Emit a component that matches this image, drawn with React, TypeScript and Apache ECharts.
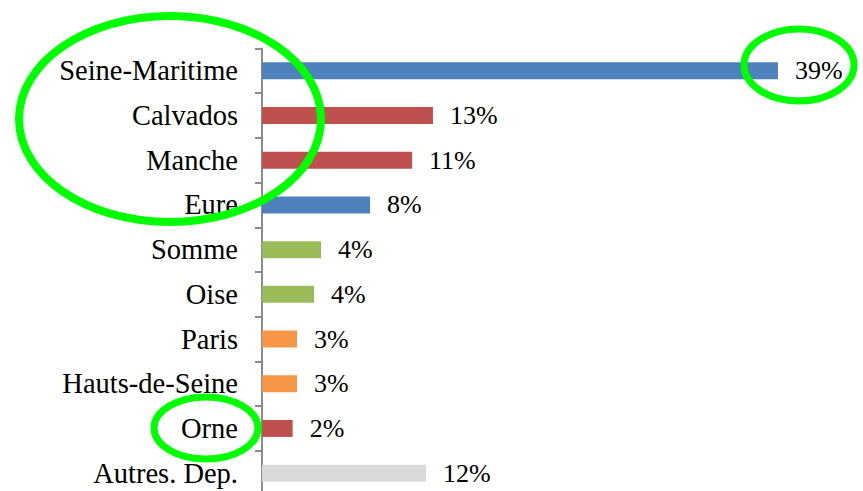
import React, { useEffect, useRef } from "react";
import * as echarts from "echarts";

const categories = [
  "Seine-Maritime",
  "Calvados",
  "Manche",
  "Eure",
  "Somme",
  "Oise",
  "Paris",
  "Hauts-de-Seine",
  "Orne",
  "Autres. Dep.",
];
const values = [39.06, 12.94, 11.36, 8.18, 4.47, 3.94, 2.65, 2.65, 2.32, 12.41];
const barColors = [
  "#4F81BD",
  "#C0504D",
  "#C0504D",
  "#4F81BD",
  "#9BBB59",
  "#9BBB59",
  "#F79646",
  "#F79646",
  "#C0504D",
  "#D9D9D9",
];

const FONT = "Liberation Serif";

export default function App() {
  const ref = useRef<HTMLDivElement>(null);
  useEffect(() => {
    if (!ref.current) return;
    const chart = echarts.init(ref.current, null, { renderer: "svg" });
    chart.setOption({
      animation: false,
      backgroundColor: "#FFFFFF",
      textStyle: { fontFamily: FONT },
      grid: {
        left: 262,
        top: 48.5,
        width: 594.5,
        height: 447,
        containLabel: false,
        outerBoundsMode: "none",
      },
      xAxis: {
        type: "value",
        min: 0,
        max: 45,
        show: false,
        splitLine: { show: false },
      },
      yAxis: {
        type: "category",
        inverse: true,
        data: categories,
        axisLine: { show: true, lineStyle: { color: "#8C8C8C", width: 2 } },
        axisTick: { show: true, length: 7, lineStyle: { color: "#8C8C8C", width: 2 } },
        axisLabel: {
          margin: 24,
          color: "#000000",
          fontFamily: FONT,
          fontSize: 28.5,
        },
      },
      series: [
        {
          type: "bar",
          barWidth: 17,
          data: values.map((v, i) => ({ value: v, itemStyle: { color: barColors[i] } })),
          label: {
            show: true,
            position: "right",
            distance: 17,
            color: "#000000",
            fontFamily: FONT,
            fontSize: 26,
            formatter: (p: any) => Math.round(p.value) + "%",
          },
        },
      ],
      graphic: [
        {
          type: "ellipse",
          shape: { cx: 170, cy: 119, rx: 151, ry: 103 },
          style: { fill: "none", stroke: "#00FF00", lineWidth: 8 },
          z: 100,
        },
        {
          type: "ellipse",
          shape: { cx: 799, cy: 65, rx: 55, ry: 36 },
          style: { fill: "none", stroke: "#00FF00", lineWidth: 7 },
          z: 100,
        },
        {
          type: "ellipse",
          shape: { cx: 206, cy: 428, rx: 52, ry: 31 },
          style: { fill: "none", stroke: "#00FF00", lineWidth: 7 },
          z: 100,
        },
      ],
    });
    return () => chart.dispose();
  }, []);
  return (
    <div
      ref={ref}
      style={{ position: "fixed", left: 0, top: 0, width: 863, height: 491, background: "#fff" }}
    />
  );
}
